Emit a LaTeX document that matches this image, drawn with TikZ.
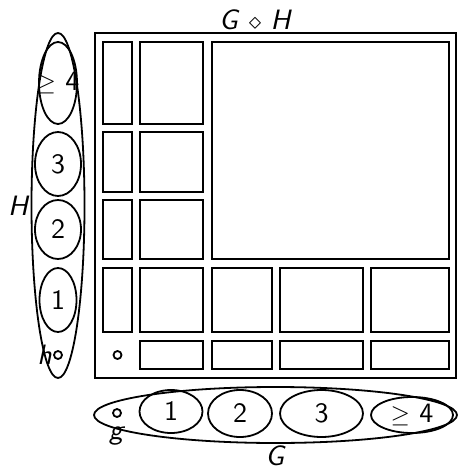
\documentclass[tikz,border=0pt]{standalone}
\usepackage{amsmath}
\usepackage{amssymb}
\usepackage{fontspec}
\newfontfamily\lmsf{lmsans10-regular.otf}[ItalicFont=lmsans10-oblique.otf]
\usepackage{tikz}
\usetikzlibrary{positioning, shapes.geometric}

\begin{document}
\begin{tikzpicture}[x=1pt, y=-1pt,
  font=\lmsf\fontsize{28}{33}\selectfont,
  frame/.style={draw, line width=2.4pt, inner sep=0pt, minimum width=361pt, minimum height=345pt},
  cell/.style={draw, line width=2.4pt, inner sep=0pt},
  blob/.style={draw, ellipse, line width=1.8pt, inner sep=0pt},
  dot/.style={draw, circle, line width=1.8pt, inner sep=0pt, minimum size=8pt}]
\useasboundingbox (0,0) rectangle (458,470);
% product frame
\node[frame, label={[inner sep=2pt, xshift=-20pt]above:\textit{G} $\diamond$ \textit{H}}] (prod) at (275.5,205.5) {};
% column of h-parts
\node[cell, minimum width=29pt, minimum height=82pt] (a4) at (117.5,83) {};
\node[cell, minimum width=29pt, minimum height=60pt] (a3) at (117.5,162) {};
\node[cell, minimum width=29pt, minimum height=59pt] (a2) at (117.5,229.5) {};
\node[cell, minimum width=29pt, minimum height=64pt] (a1) at (117.5,300) {};
\node[dot] (a0) at (117.5,355) {};
% column 1
\node[cell, minimum width=63pt, minimum height=82pt] (b4) at (171.5,83) {};
\node[cell, minimum width=63pt, minimum height=60pt] (b3) at (171.5,162) {};
\node[cell, minimum width=63pt, minimum height=59pt] (b2) at (171.5,229.5) {};
\node[cell, minimum width=63pt, minimum height=64pt] (b1) at (171.5,300) {};
\node[cell, minimum width=63pt, minimum height=28pt] (b0) at (171.5,355) {};
% big block
\node[cell, minimum width=237pt, minimum height=217pt] (big) at (330.5,150.5) {};
% columns 2--4
\node[cell, minimum width=60pt, minimum height=64pt] (c1) at (242,300) {};
\node[cell, minimum width=60pt, minimum height=28pt] (c0) at (242,355) {};
\node[cell, minimum width=83pt, minimum height=64pt] (d1) at (321.5,300) {};
\node[cell, minimum width=83pt, minimum height=28pt] (d0) at (321.5,355) {};
\node[cell, minimum width=78pt, minimum height=64pt] (e1) at (410,300) {};
\node[cell, minimum width=78pt, minimum height=28pt] (e0) at (410,355) {};

% factor H
\node[blob, minimum width=53pt, minimum height=345pt,
      label={[inner sep=1pt]left:\textit{H}}] (H) at (58,205.5) {};
\node[blob, minimum width=38pt, minimum height=82pt, label=center:$\geq$ 4] (H4) at (58,83) {};
\node[blob, minimum width=46pt, minimum height=64pt, label=center:3] (H3) at (58,164) {};
\node[blob, minimum width=46pt, minimum height=59pt, label=center:2] (H2) at (58,229.5) {};
\node[blob, minimum width=37pt, minimum height=64pt, label=center:1] (H1) at (58,300) {};
\node[dot, label={[inner sep=1pt]left:\textit{h}}] (h) at (58,355) {};

% factor G
\node[blob, minimum width=363pt, minimum height=56pt,
      label={[inner sep=0pt, label distance=2pt]below:\textit{G}}] (G) at (275.5,415) {};
\node[dot, label={[inner sep=0pt, label distance=9pt]below:\textit{g}}] (g) at (117,413) {};
\node[blob, minimum width=63pt, minimum height=43pt, label=center:1] (G1) at (171,411.5) {};
\node[blob, minimum width=64pt, minimum height=47pt, label=center:2] (G2) at (240,413.5) {};
\node[blob, minimum width=83pt, minimum height=47pt, label=center:3] (G3) at (321.5,413.5) {};
\node[blob, minimum width=82pt, minimum height=36pt, label=center:$\geq$ 4] (G4) at (412,415) {};
\end{tikzpicture}
\end{document}
